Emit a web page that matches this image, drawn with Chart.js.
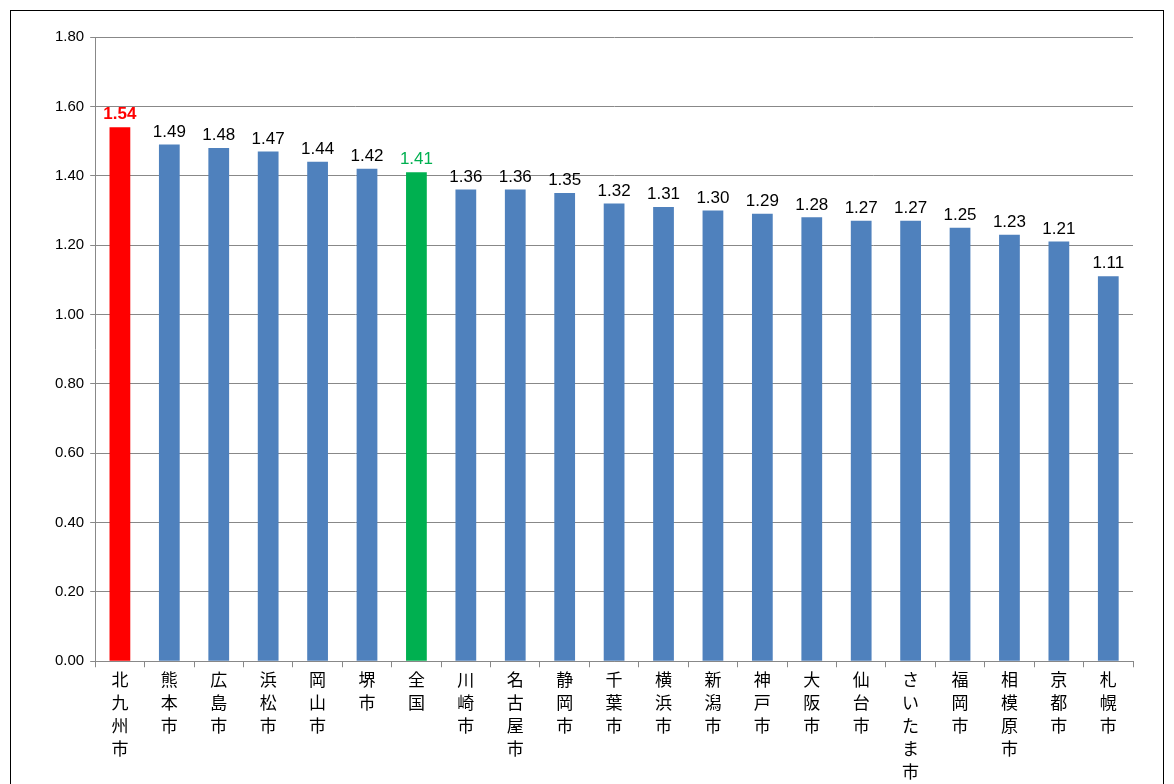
<!DOCTYPE html>
<html><head><meta charset="utf-8">
<script src="https://cdn.jsdelivr.net/npm/chart.js@4/dist/chart.umd.min.js"></script>
<style>
html,body{margin:0;padding:0;background:#fff;}
#wrap{position:absolute;left:10px;top:10px;width:1154px;height:780px;border:1px solid #000;box-sizing:border-box;}
canvas{display:block;}
</style></head><body>
<div id="wrap"><canvas id="c" width="1154" height="780"></canvas></div>
<script>
const categories = ["北九州市","熊本市","広島市","浜松市","岡山市","堺市","全国","川崎市","名古屋市","静岡市","千葉市","横浜市","新潟市","神戸市","大阪市","仙台市","さいたま市","福岡市","相模原市","京都市","札幌市"];
const values = [1.54,1.49,1.48,1.47,1.44,1.42,1.41,1.36,1.36,1.35,1.32,1.31,1.30,1.29,1.28,1.27,1.27,1.25,1.23,1.21,1.11];
const barColors = values.map((v,i)=> i===0 ? "#FF0000" : (i===6 ? "#00B050" : "#4F81BD"));
const labelColors = values.map((v,i)=> i===0 ? "#FF0000" : (i===6 ? "#00B050" : "#000000"));
const font = "'Liberation Sans', Arial, 'Noto Sans CJK JP', sans-serif";

const valueLabels = {
  id:'valueLabels',
  afterDatasetsDraw(chart){
    const ctx = chart.ctx;
    const meta = chart.getDatasetMeta(0);
    ctx.save();
    ctx.textAlign='center'; ctx.textBaseline='bottom';
    meta.data.forEach((bar,i)=>{
      ctx.font = (i===0?'bold ':'') + '17px ' + font;
      ctx.fillStyle = labelColors[i];
      ctx.fillText(values[i].toFixed(2), bar.x, bar.y - 4);
    });
    ctx.restore();
  }
};

new Chart(document.getElementById('c'), {
  type:'bar',
  data:{ labels: categories.map(s=>Array.from(s)),
    datasets:[{ data: values, backgroundColor: barColors, barPercentage:0.42, categoryPercentage:1.0 }]},
  options:{
    responsive:false, animation:false,
    layout:{padding:{left:38,right:32,top:26,bottom:3}},
    plugins:{legend:{display:false}, tooltip:{enabled:false}},
    scales:{
      y:{ min:0, max:1.8, ticks:{stepSize:0.2, color:'#000', font:{size:15, family:font}, callback:v=>v.toFixed(2), padding:6},
          grid:{color:'#888', tickLength:5, drawTicks:true}, border:{color:'#888'} },
      x:{ ticks:{color:'#000', font:{size:17, family:font, lineHeight:1.35}, maxRotation:0, minRotation:0, autoSkip:false},
          grid:{display:true, offset:true, drawOnChartArea:false, color:'#888', tickLength:6}, border:{color:'#888'} }
    }
  },
  plugins:[valueLabels]
});
</script>
</body></html>
